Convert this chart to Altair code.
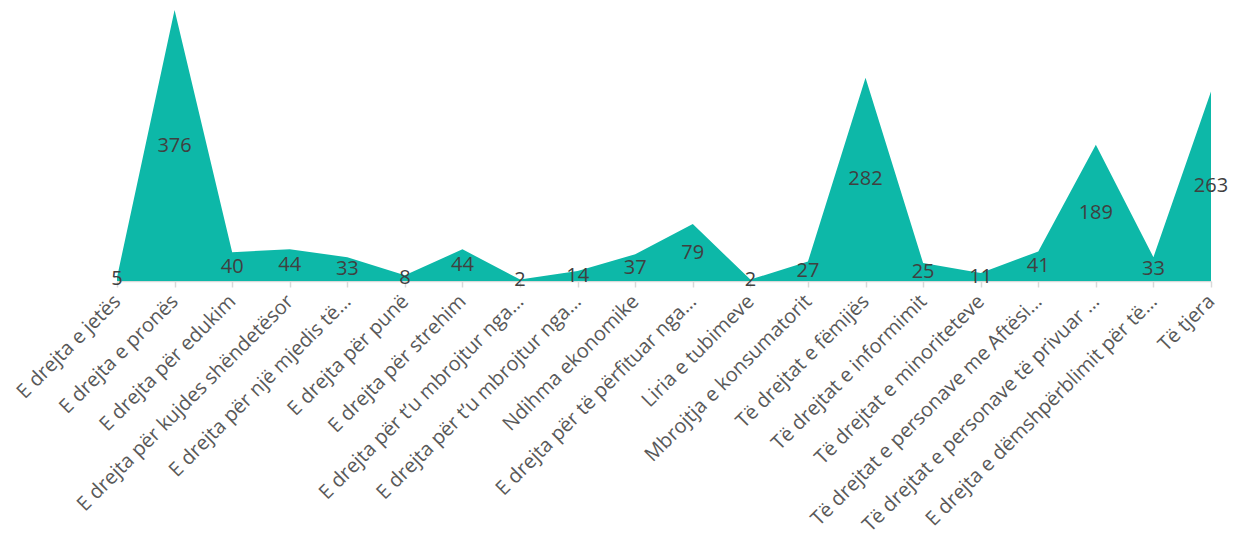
import altair as alt
import pandas as pd

categories = [
    "E drejta e jetës",
    "E drejta e pronës",
    "E drejta për edukim",
    "E drejta për kujdes shëndetësor",
    "E drejta për një mjedis të…",
    "E drejta për punë",
    "E drejta për strehim",
    "E drejta për t’u mbrojtur nga…",
    "E drejta për t’u mbrojtur nga… ",
    "Ndihma ekonomike",
    "E drejta për të përfituar nga…",
    "Liria e tubimeve",
    "Mbrojtja e konsumatorit",
    "Të drejtat e fëmijës",
    "Të drejtat e informimit",
    "Të drejtat e minoriteteve",
    "Të drejtat e personave me Aftësi…",
    "Të drejtat e personave të privuar …",
    "E drejta e dëmshpërblimit për të…",
    "Të tjera",
]
values = [5, 376, 40, 44, 33, 8, 44, 2, 14, 37, 79, 2, 27, 282, 25, 11, 41, 189, 33, 263]

df = pd.DataFrame({"cat": categories, "val": values})

x_scale = alt.Scale(type="point", padding=0)
x_enc = alt.X(
    "cat:N",
    sort=categories,
    scale=x_scale,
    axis=alt.Axis(
        title=None,
        labelAngle=-45,
        labelAlign="right",
        labelBaseline="middle",
        labelFont="Open Sans",
        labelFontSize=20,
        labelColor="#595959",
        labelPadding=11,
        labelLimit=500,
        domainColor="#D9D9D9",
        domainWidth=1.5,
        tickColor="#D9D9D9",
        tickSize=6,
        tickWidth=1.5,
        grid=False,
    ),
)
y_scale = alt.Scale(domain=[0, 376], nice=False, zero=True)

area = alt.Chart(df).mark_area(color="#0DB8A8", opacity=1, interpolate="linear").encode(
    x=x_enc,
    y=alt.Y("val:Q", scale=y_scale, axis=None, stack=None),
)

labels = alt.Chart(df).transform_calculate(mid="datum.val / 2").mark_text(
    font="Open Sans", fontSize=20, color="#404040", baseline="middle", align="center"
).encode(
    x=alt.X("cat:N", sort=categories, scale=x_scale),
    y=alt.Y("mid:Q", scale=y_scale),
    text="val:Q",
)

chart = (
    alt.layer(area, labels)
    .properties(
        width=1094,
        height=271,
        autosize=alt.AutoSizeParams(type="none"),
        padding={"left": 109, "top": 2, "right": 20, "bottom": 256},
        view=alt.ViewBackground(stroke="transparent", strokeWidth=0),
    )
    .configure_view(strokeWidth=0, stroke="transparent")
    .configure(background="white")
)

chart.save("out.html", embed_options={"renderer": "svg", "actions": False})
